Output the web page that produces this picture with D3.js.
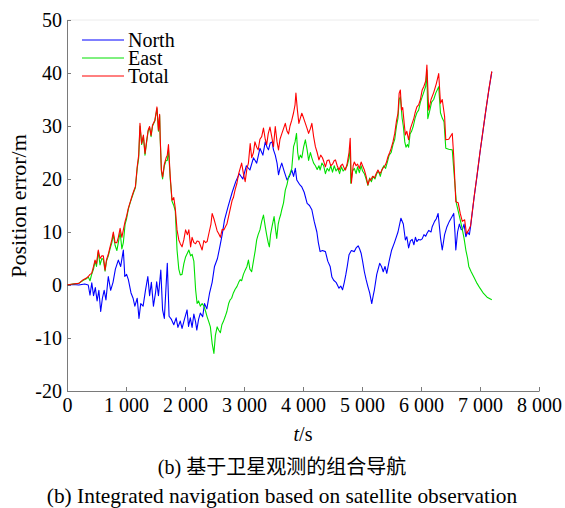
<!DOCTYPE html>
<html>
<head>
<meta charset="utf-8">
<script src="https://cdn.jsdelivr.net/npm/d3@7/dist/d3.min.js"></script>
<style>
  html, body { margin: 0; padding: 0; background: #fff; }
  svg { display: block; }
  text { font-family: "Liberation Serif", "Times New Roman", serif; fill: #000; }
</style>
</head>
<body>
<svg id="chart" width="565" height="508"></svg>
<script>
// Position error of the satellite-aided integrated navigation, metres vs seconds
const northT = [0,100,200,300,360,390,420,450,480,510,540,571,600,630,660,700,740,780,820,870,910,955,980,1010,1040,1085,1120,1150,1190,1220,1250,1290,1330,1370,1400,1430,1465,1500,1520,1550,1590,1620,1650,1700,1730,1770,1810,1850,1880,1920,1950,1990,2035,2060,2090,2120,2150,2180,2200,2230,2260,2300,2330,2370,2415,2460,2500,2550,2590,2630,2670,2730,2800,2860,2920,2980,3040,3100,3160,3215,3270,3320,3360,3390,3415,3445,3475,3500,3530,3560,3585,3610,3640,3680,3730,3770,3810,3840,3870,3895,3940,3980,4020,4070,4110,4150,4190,4235,4260,4290,4330,4380,4420,4460,4490,4520,4560,4610,4640,4670,4700,4725,4750,4780,4820,4870,4900,4935,4960,4985,5010,5040,5070,5100,5130,5165,5190,5210,5250,5300,5330,5360,5390,5420,5460,5500,5550,5610,5660,5700,5735,5760,5790,5820,5850,5880,5905,5930,5960,5990,6020,6050,6080,6100,6130,6170,6190,6230,6260,6290,6330,6360,6400,6440,6480,6520,6555,6575,6590,6620,6650,6680,6700,6730,6760,6790,6820,6840,6900,6950,7000,7050,7100,7150,7200];
const northV = [0,0.1,0,0.2,0,-1.9,0.4,-2,-0.5,-3,-1,-5,-2.5,-1,-2.8,1.6,-1,0.5,3,4.7,3.5,6.6,1.6,2,1,-1.5,-2.5,-4,-2.5,-6.3,-3.5,-4,-1,1.6,-2,0.5,-4,-1.5,0.6,-2,2.8,-4.7,-6.3,4.1,-5.9,-6.5,-7.5,-6.2,-8,-6.8,-8.2,-6.5,-4.7,-7.8,-6.2,-8,-5.5,-7,-8.5,-6.5,-5.3,-6,-3.5,-4.5,-1.6,0.5,3.5,5,7.2,9.5,12.3,14.8,17.5,19.5,21,20,22.5,21.7,24,23,25.8,24.5,27,26,25.5,26.8,27,25.5,24.5,23,20.8,22,23,21.5,19.8,20.5,21.7,20.5,22,19.8,19,18.5,17.5,15.4,15,14.2,12,10,8,6.3,6.5,6.3,4.5,3.5,1.5,0.9,0.5,-0.6,-0.2,-0.9,0.5,1.9,3.5,5.7,6.5,6.3,7,7.4,6.8,6,4.5,2.5,1,-0.3,-1.5,-3.5,-2,-0.9,2,4.1,3.5,2.5,3.5,2.2,4.5,6.5,8,10,12.6,11.5,8.5,9.1,7,8.3,8.6,7.6,9,8.2,8.6,8.5,8.7,9.5,9.2,9.7,10.3,10,11,12,12.5,13.5,9,6.6,9.5,11,12,12.8,13.5,10,6.6,10,11.5,10.5,10.4,11.5,9.1,10,9.5,11,16.5,20.6,25,29,33,36.8,40.2];

const eastT = [0,100,200,276,330,361,390,418,450,475,500,530,560,590,616,645,670,700,730,760,785,815,845,870,900,930,955,985,1010,1040,1070,1100,1130,1160,1190,1215,1237,1265,1295,1322,1350,1375,1400,1425,1450,1490,1525,1550,1570,1580,1600,1620,1650,1680,1700,1720,1750,1780,1810,1835,1865,1895,1920,1950,1980,2010,2040,2065,2095,2120,2150,2180,2205,2230,2260,2290,2320,2350,2375,2405,2430,2460,2490,2515,2545,2570,2600,2625,2650,2680,2710,2740,2765,2790,2820,2850,2880,2910,2935,2960,2990,3020,3050,3075,3100,3130,3160,3190,3215,3240,3270,3300,3330,3360,3385,3410,3430,3450,3475,3510,3535,3555,3580,3600,3620,3640,3670,3700,3730,3755,3780,3810,3840,3865,3890,3910,3930,3955,3980,4010,4040,4070,4095,4125,4150,4180,4210,4240,4270,4290,4320,4350,4380,4410,4440,4470,4500,4530,4560,4590,4620,4650,4680,4720,4750,4780,4800,4810,4840,4870,4900,4925,4955,4985,5010,5040,5070,5100,5130,5160,5190,5220,5250,5280,5310,5340,5370,5400,5430,5460,5495,5525,5555,5585,5610,5630,5650,5680,5700,5725,5745,5770,5790,5815,5840,5870,5900,5930,5960,5990,6020,6050,6080,6100,6115,6150,6180,6215,6250,6300,6330,6360,6390,6420,6470,6530,6565,6600,6630,6665,6700,6730,6760,6790,6810,6850,6900,6950,7000,7060,7120,7200];
const eastV = [0,0.2,0.3,0.9,1.2,1.5,0.8,2,3,4.5,3.5,6.3,3.8,5,4.8,2.6,4.5,5.5,6.8,8,9.5,7.5,6.5,8,10,6.8,8,11.5,12.5,14.3,15.5,16.5,17.5,18.4,22,24,30,26.5,28,24.5,27,29,29.7,28,30,31,33.3,29,32,27.5,21.5,20,22.5,23.5,23.5,25.5,20,15.8,15,14,6.6,3,1.9,2,4,5.3,6,6.6,5.5,5.8,4.5,-0.9,-3.5,-3,-4,-3.5,-4,-5,-6,-7,-7.9,-11,-12.9,-9.5,-7.9,-8.5,-9,-7.5,-6.9,-6,-5,-3.5,-2.8,-2.5,-1.5,-0.8,-0.3,0.5,1,0.8,2,2.8,3.5,4.7,3,2.5,4.5,6.5,8.5,9.5,10.4,12,13.2,11,9.4,8,7.2,9.5,11,12.9,10.5,8.8,11.5,12.5,13.2,14.2,15.5,17.9,19,20.4,21,22,26.1,27,28.6,25,23.6,24.5,24,26,27.4,25.5,23.5,25,24,23,22.5,21.8,22.5,21.7,23,22.5,21,22,21.5,22.5,21.3,22.5,21.5,22,21,22.3,21.5,22,22.5,24,26,19.2,21.5,22,21,22.3,21.2,22.5,21.5,21,20,18.8,20.2,19.5,20.5,20,21,21.5,20.5,21.8,22.5,22,23.2,24.5,25,26.5,27.5,30,31.5,35,35.5,31.5,30,27,26,26.5,26,28.5,29,30,31.5,32.5,33,34.5,35.5,36.5,37.5,40.5,31.4,33,34.5,35,36.2,37.4,32.5,31.5,30.8,25.8,25.6,25.5,20.4,15.4,14,12.3,10.5,8.8,6.6,5,3.5,2.5,1.4,0.3,-0.6,-1.6,-2.3,-2.8];

const totalT = [0,100,200,276,330,361,390,418,450,475,500,530,560,590,616,645,670,700,730,760,785,815,845,870,900,930,955,985,1010,1040,1070,1100,1130,1160,1190,1215,1237,1265,1295,1322,1350,1375,1400,1425,1450,1490,1525,1550,1570,1580,1600,1620,1650,1680,1700,1720,1750,1780,1810,1835,1865,1895,1920,1950,1980,2010,2040,2065,2095,2120,2150,2180,2205,2235,2260,2290,2320,2350,2375,2410,2440,2460,2490,2515,2545,2570,2600,2630,2660,2685,2710,2740,2770,2800,2820,2850,2880,2910,2960,2990,3020,3050,3075,3105,3130,3160,3185,3215,3240,3270,3300,3330,3360,3385,3410,3440,3470,3500,3530,3560,3585,3610,3640,3670,3700,3730,3755,3780,3810,3840,3865,3880,3905,3930,3955,3980,4010,4040,4070,4095,4125,4150,4180,4210,4240,4270,4300,4330,4355,4380,4410,4440,4470,4500,4530,4550,4580,4610,4640,4670,4700,4720,4750,4780,4800,4820,4850,4870,4900,4925,4955,4985,5010,5040,5070,5100,5130,5150,5180,5210,5240,5270,5300,5325,5350,5380,5410,5440,5470,5495,5525,5555,5585,5610,5630,5650,5670,5690,5715,5735,5760,5790,5820,5850,5880,5900,5930,5960,5990,6020,6050,6080,6100,6130,6170,6215,6260,6300,6330,6360,6400,6420,6470,6530,6555,6590,6630,6665,6700,6740,6770,6810,6840,6900,6950,7000,7050,7100,7150,7200];
const totalV = [0,0.2,0.3,1,1.3,1.6,2,2.2,3.5,4.7,4,6.6,5,5.5,5.5,2.8,4.8,5.8,7.2,8.5,10,8,8,9,10.7,9,10.4,12,13,14.5,15.6,16.7,17.7,18.6,22.3,24.5,30.5,26.7,28.3,24.8,27.2,29.2,29.9,28.2,30.2,31.1,33.6,29.2,32.2,27.7,21.7,20.4,22.8,24,24.5,26.5,20.4,16,16.5,14.5,10.4,8.5,7.8,7.2,8.5,10.4,9.5,10.4,7.2,9,8,7.8,8.3,8.2,7.5,6.6,8.4,8,8.2,10,11.5,13.5,12.5,11.5,10.2,9.7,9,10.5,10.4,11,11.5,13,14.5,16,16.5,18,19.2,21,23,21,19.5,22,23,26.7,24,25,27,26,25.5,27.5,28,29.6,27.5,26.5,28.5,29.8,28,26.1,29.9,27,25.5,27.5,28.5,29.5,30.5,29,28.5,30,31.1,32.5,34,36.2,33,30.5,31.5,32.4,31.5,30.5,29.5,28.6,29.5,30.5,28,26.1,25,23.6,24.5,24,23.2,22.3,23.5,23.6,22.5,22.8,23.5,23.6,22.5,21.7,22.5,22.8,22,21.7,23,25,27.7,19.2,22.5,23.2,22.5,22.8,22,23.2,22.5,21.7,20.5,18.9,20,19.8,20.5,20.2,21,21.7,21,21.4,22,22.3,23,24.2,25,25.8,27,28.6,31,32.4,36.2,36.8,33,33.5,30.5,28.3,29,27.4,29.5,30.5,31.5,32.5,33.6,34,35,36.8,37.5,38.5,41.5,33,35,36.3,38,39.9,34.3,35,31.8,27.4,27.5,28.6,24.2,15.7,15.5,13.5,12,12.3,9.7,10.4,11.2,16.6,20.8,25.1,29.1,33.1,36.9,40.3];

const seriesNames = ["North", "East", "Total"];
const seriesColors = ["#0000ff", "#00e000", "#ff0000"];

const xTicks = [0, 1000, 2000, 3000, 4000, 5000, 6000, 7000, 8000];
const xTickLabels = ["0", "1 000", "2 000", "3 000", "4 000", "5 000", "6 000", "7 000", "8 000"];
const yTicks = [-20, -10, 0, 10, 20, 30, 40, 50];
const yTickLabels = ["-20", "-10", "0", "10", "20", "30", "40", "50"];

const svg = d3.select("#chart");
const plotLeft = 67, plotRight = 539, plotTop = 20, plotBottom = 391;

const x = d3.scaleLinear().domain([0, 8000]).range([plotLeft, plotRight]);
const y = d3.scaleLinear().domain([-20, 50]).range([plotBottom, plotTop]);

// faint top frame line
svg.append("line")
  .attr("x1", plotLeft).attr("x2", plotRight).attr("y1", plotTop).attr("y2", plotTop)
  .attr("stroke", "#ececec").attr("stroke-width", 1);

const xAxis = d3.axisBottom(x)
  .tickValues(xTicks)
  .tickFormat((d, i) => xTickLabels[i])
  .tickSizeInner(-4).tickSizeOuter(0).tickPadding(7);
const yAxis = d3.axisLeft(y)
  .tickValues(yTicks)
  .tickFormat((d, i) => yTickLabels[i])
  .tickSizeInner(-4).tickSizeOuter(0).tickPadding(5);

const gx = svg.append("g").attr("transform", `translate(0,${plotBottom})`).call(xAxis);
const gy = svg.append("g").attr("transform", `translate(${plotLeft},0)`).call(yAxis);
[gx, gy].forEach(g => {
  g.select(".domain").attr("stroke", "#7a7a7a");
  g.selectAll(".tick line").attr("stroke", "#7a7a7a");
  g.selectAll(".tick text")
    .attr("fill", "#000")
    .style("font-family", '"Liberation Serif", serif')
    .style("font-size", "20px");
});

// data lines
const line = d3.line().x(d => x(d[0])).y(d => y(d[1]));
const series = [
  d3.zip(northT, northV),
  d3.zip(eastT, eastV),
  d3.zip(totalT, totalV)
];
series.forEach((s, i) => {
  svg.append("path")
    .datum(s)
    .attr("fill", "none")
    .attr("stroke", seriesColors[i])
    .attr("stroke-width", 1.1)
    .attr("stroke-linejoin", "round")
    .attr("d", line);
});

// legend
const legY = [40, 58, 76];
seriesNames.forEach((name, i) => {
  svg.append("line")
    .attr("x1", 82).attr("x2", 124)
    .attr("y1", legY[i]).attr("y2", legY[i])
    .attr("stroke", seriesColors[i]).attr("stroke-width", 1);
  svg.append("text")
    .attr("x", 128).attr("y", legY[i] + 6.5)
    .style("font-size", "20px")
    .text(name);
});

// axis titles
const xt = svg.append("text")
  .attr("x", 303).attr("y", 441)
  .attr("text-anchor", "middle")
  .style("font-size", "20px");
xt.append("tspan").style("font-style", "italic").text("t");
xt.append("tspan").text("/s");

svg.append("text")
  .attr("transform", "translate(26,206) rotate(-90)")
  .attr("text-anchor", "middle")
  .style("font-size", "22px")
  .text("Position error/m");

// captions
svg.append("text")
  .attr("x", 282).attr("y", 474)
  .attr("text-anchor", "middle")
  .style("font-family", '"Liberation Serif", "Noto Sans CJK SC", serif')
  .style("font-size", "20px")
  .text("(b) 基于卫星观测的组合导航");

svg.append("text")
  .attr("x", 282).attr("y", 503)
  .attr("text-anchor", "middle")
  .style("font-size", "21.4px")
  .text("(b) Integrated navigation based on satellite observation");
</script>
</body>
</html>
